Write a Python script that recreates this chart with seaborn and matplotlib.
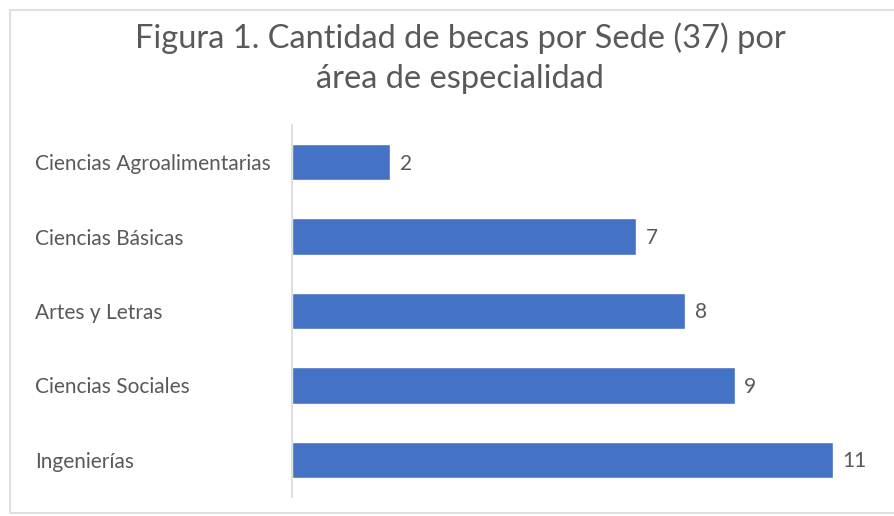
import matplotlib
matplotlib.use("Agg")
import matplotlib.pyplot as plt
import seaborn as sns
import pandas as pd
from matplotlib.patches import Rectangle

# Data
areas = ['Ciencias Agroalimentarias', 'Ciencias Básicas', 'Artes y Letras',
         'Ciencias Sociales', 'Ingenierías']
becas = [2, 7, 8, 9, 11]

TITLE = 'Figura 1. Cantidad de becas por Sede (37) por\nárea de especialidad'
BAR_COLOR = '#4472C4'
TEXT_COLOR = '#595959'
GRID_COLOR = '#D9D9D9'

sns.set_theme(style='white')
plt.rcParams['font.family'] = ['Lato', 'DejaVu Sans']

df = pd.DataFrame({'area': areas, 'becas': becas})

W, H = 894, 516
fig = plt.figure(figsize=(W / 100, H / 100), dpi=100)
ax = fig.add_axes([292 / W, 1 - 497 / H, (882 - 292) / W, (497 - 125) / H])

sns.barplot(data=df, x='becas', y='area', color=BAR_COLOR, width=0.49,
            saturation=1, ax=ax)

ax.set_xlim(0, 12)
ax.set_ylim(4.5, -0.5)
ax.set_xlabel('')
ax.set_ylabel('')
ax.set_xticks([])
ax.tick_params(axis='y', length=0, pad=0, labelsize=15, labelcolor=TEXT_COLOR)
for lbl in ax.get_yticklabels():
    lbl.set_horizontalalignment('left')
    lbl.set_transform(ax.get_yaxis_transform())
    lbl.set_position((-(292 - 35) / (882 - 292), lbl.get_position()[1]))

for side in ['top', 'right', 'bottom']:
    ax.spines[side].set_visible(False)
ax.spines['left'].set_color(GRID_COLOR)
ax.spines['left'].set_linewidth(1.2)

for i, v in enumerate(becas):
    ax.annotate(str(v), xy=(v, i), xytext=(7, -1), textcoords='offset points',
                va='center', ha='left', fontsize=15, color=TEXT_COLOR)

fig.text(460 / W, 1 - 58 / H, TITLE, ha='center', va='center',
         fontsize=23.5, color=TEXT_COLOR, linespacing=1.42)

# light chart border like the spreadsheet chart area
fig.patches.append(Rectangle((10 / W, 3 / H), 1, 1 - 13 / H,
                             transform=fig.transFigure, fill=False,
                             edgecolor=GRID_COLOR, linewidth=1.2))

fig.savefig('out.png', dpi=100)
